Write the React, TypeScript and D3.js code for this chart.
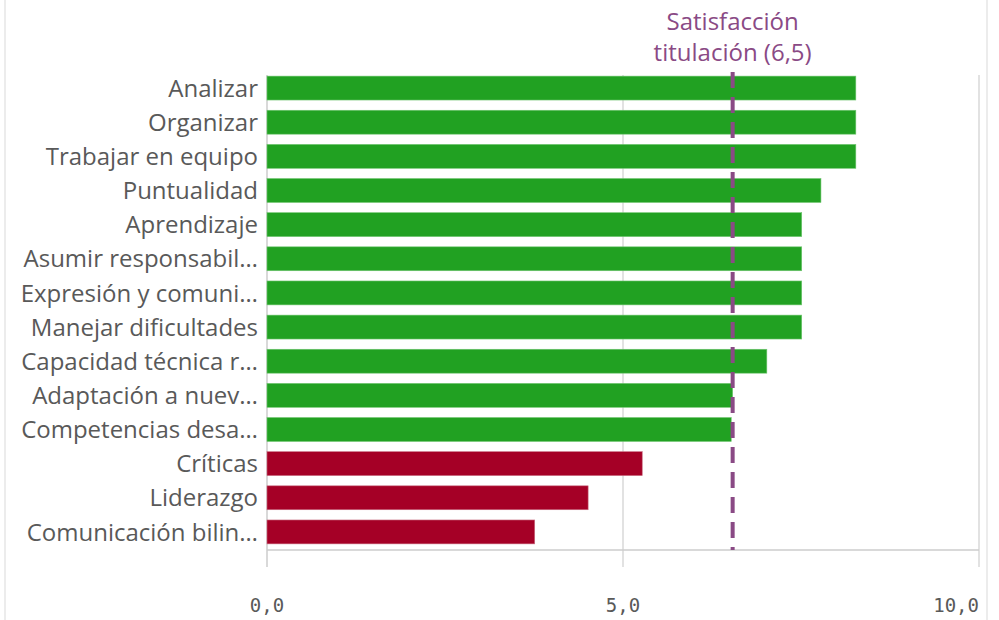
import React from "react";
import * as d3 from "d3";

const categories = [
  "Analizar",
  "Organizar",
  "Trabajar en equipo",
  "Puntualidad",
  "Aprendizaje",
  "Asumir responsabil…",
  "Expresión y comuni…",
  "Manejar dificultades",
  "Capacidad técnica r…",
  "Adaptación a nuev…",
  "Competencias desa…",
  "Críticas",
  "Liderazgo",
  "Comunicación bilin…",
];
const values = [8.27, 8.27, 8.27, 7.78, 7.51, 7.51, 7.51, 7.51, 7.02, 6.54, 6.52, 5.27, 4.51, 3.76];
const groups = ["alta", "alta", "alta", "alta", "alta", "alta", "alta", "alta", "alta", "alta", "alta", "baja", "baja", "baja"];
const referenceValue = 6.54;
const referenceLabel = ["Satisfacción", "titulación (6,5)"];
const xTicks = [0, 5, 10];
const tickLabels = ["0,0", "5,0", "10,0"];

export default function App() {
  const W = 999, H = 620;
  const left = 267, right = 979, top = 71, bottom = 549;
  const x = d3.scaleLinear().domain([0, 10]).range([left, right]);
  const y = d3.scaleBand<string>().domain(categories).range([top, bottom]).paddingInner(0.3).paddingOuter(0.15);
  const color = d3.scaleOrdinal<string, string>().domain(["alta", "baja"]).range(["#21a122", "#a50026"]);
  const strokeC = d3.scaleOrdinal<string, string>().domain(["alta", "baja"]).range(["#6fc56f", "#c96b80"]);
  const purple = "#8a4a85";
  const gray = "#595959";
  const font = "'Open Sans', sans-serif";
  return (
    <svg width={W} height={H} style={{ position: "absolute", left: 0, top: 0, background: "#fff" }}>
      <line x1={5} x2={5} y1={0} y2={H} stroke="#e6e6e6" strokeWidth={1.5} />
      <line x1={987} x2={987} y1={0} y2={H} stroke="#e6e6e6" strokeWidth={1.5} />
      {xTicks.slice(1).map((t) => (
        <line key={t} x1={x(t)} x2={x(t)} y1={75} y2={567} stroke="#d9d9d9" strokeWidth={1.5} />
      ))}
      <line x1={x(0)} x2={x(0)} y1={75} y2={567} stroke="#cccccc" strokeWidth={1.5} />
      <line x1={x(0)} x2={x(10)} y1={550} y2={550} stroke="#cccccc" strokeWidth={1.5} />
      {categories.map((c, i) => (
        <rect
          key={c}
          x={x(0)}
          y={y(c)}
          width={x(values[i]) - x(0)}
          height={y.bandwidth()}
          fill={color(groups[i])}
          stroke={strokeC(groups[i])}
          strokeWidth={0.6}
        />
      ))}
      {categories.map((c) => (
        <text
          key={c}
          x={258}
          y={(y(c) as number) + y.bandwidth() / 2}
          dy="0.36em"
          textAnchor="end"
          fontFamily={font}
          fontSize={24}
          fill={gray}
        >
          {c}
        </text>
      ))}
      <line
        x1={x(referenceValue)}
        x2={x(referenceValue)}
        y1={72}
        y2={550}
        stroke={purple}
        strokeWidth={4}
        strokeDasharray="16,9"
      />
      {referenceLabel.map((t, i) => (
        <text
          key={t}
          x={x(referenceValue)}
          y={30 + i * 31}
          textAnchor="middle"
          fontFamily={font}
          fontSize={24}
          fill={purple}
        >
          {t}
        </text>
      ))}
      {xTicks.map((t, i) => (
        <text
          key={t}
          x={x(t)}
          y={612}
          textAnchor={i === xTicks.length - 1 ? "end" : "middle"}
          fontFamily="'DejaVu Sans Mono', monospace"
          fontSize={19}
          fill={gray}
        >
          {tickLabels[i]}
        </text>
      ))}
    </svg>
  );
}
